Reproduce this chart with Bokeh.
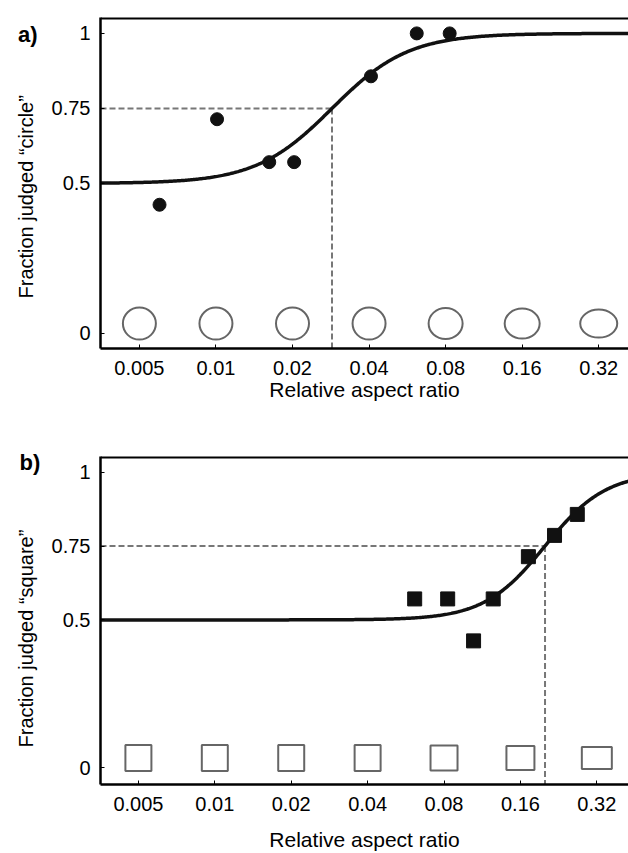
import numpy as np
from bokeh.plotting import figure
from bokeh.layouts import column
from bokeh.models import FixedTicker, CustomJSTickFormatter, Range1d, Title
from bokeh.core.properties import value
from bokeh.embed import file_html
from bokeh.resources import INLINE

# ---------------- data ----------------
tick_x = [0.005, 0.01, 0.02, 0.04, 0.08, 0.16, 0.32]
tick_y = [0, 0.5, 0.75, 1]

circle_x = [0.0060, 0.0101, 0.0162, 0.0203, 0.0407, 0.0616, 0.0830]
circle_y = [0.429, 0.714, 0.571, 0.571, 0.857, 1.0, 1.0]
circle_threshold = 0.0286
circle_spread = 0.5   # logistic spread, in doublings

square_x = [0.0613, 0.0827, 0.1046, 0.1250, 0.1720, 0.2180, 0.2680]
square_y = [0.571, 0.571, 0.429, 0.571, 0.714, 0.786, 0.857]
square_threshold = 0.200
square_spread = 0.4

guess_rate = 0.5
criterion = 0.75
stim_level = 0.033

# stimulus icon sizes (screen px)
ellipse_w = [33, 33, 33, 33, 34, 35, 37]
ellipse_h = [32, 32, 32, 32, 31, 30, 28]
rect_w = [26, 26, 26, 26, 27, 28, 30]
rect_h = [26, 26, 26, 26, 25, 24, 22]

FONT = "Liberation Sans"
GRAY = "#666666"


def make_panel(height, border_top, border_bottom, border_left, xr, yr,
               ylabel, ylabel_offset, tag, tag_pos, title_standoff):
    p = figure(width=628, height=height, x_axis_type="log",
               x_range=Range1d(*xr), y_range=Range1d(*yr),
               output_backend="svg", toolbar_location=None,
               min_border_left=border_left, min_border_right=0,
               min_border_top=border_top, min_border_bottom=border_bottom)
    p.outline_line_color = None
    p.grid.visible = False
    p.background_fill_color = "white"
    p.border_fill_color = "white"

    fmt = CustomJSTickFormatter(code="return tick.toString();")
    for ax, ticks in ((p.xaxis[0], tick_x), (p.yaxis[0], tick_y)):
        ax.ticker = FixedTicker(ticks=ticks)
        ax.formatter = fmt
        ax.axis_line_width = 2.5
        ax.axis_line_color = "black"
        ax.major_tick_in = 4
        ax.major_tick_out = 0
        ax.major_tick_line_color = "black"
        ax.minor_tick_line_color = None
        ax.major_label_text_font = FONT
        ax.major_label_text_font_size = "20px"
        ax.major_label_text_color = "black"
    p.xaxis.axis_label = "Relative aspect ratio"
    p.xaxis.axis_label_text_font = FONT
    p.xaxis.axis_label_text_font_size = "21px"
    p.xaxis.axis_label_text_font_style = "normal"
    p.xaxis.axis_label_text_color = "black"
    p.xaxis.major_label_standoff = 12
    p.xaxis.axis_label_standoff = title_standoff
    p.yaxis.major_label_standoff = 10

    # y-axis title as a side title (aligned from the bottom, shifted up)
    p.add_layout(Title(text=ylabel, text_font=FONT, text_font_size="20px",
                       text_font_style="normal", text_color="black",
                       align="left", offset=ylabel_offset, standoff=24), "left")

    # top spine
    p.segment(x0=[xr[0]], y0=[yr[1]], x1=[xr[1]], y1=[yr[1]],
              line_color="black", line_width=4)

    # panel tag
    p.text(x=[tag_pos[0]], y=[tag_pos[1]], text=[tag], text_font=value(FONT),
           text_font_size="22px", text_font_style="bold", text_align="center",
           text_baseline="alphabetic", text_color="black", level="overlay")
    return p


# ---------------- panel a ----------------
xa = (0.003516, 0.419)
ya = (-0.05, 1.053)
pa = make_panel(408, 17, 60, 99, xa, ya, "Fraction judged \u201ccircle\u201d", 50,
                "a)", (0.00182, 0.998), 0)

xs = np.geomspace(xa[0], xa[1], 400)
curve_a = guess_rate + (1 - guess_rate) / (1 + np.exp(-(np.log2(xs) - np.log2(circle_threshold)) / circle_spread))
pa.segment(x0=[xa[0], circle_threshold], y0=[criterion, criterion],
           x1=[circle_threshold, circle_threshold], y1=[criterion, ya[0]],
           line_color="#777777", line_width=2, line_dash="6 3")
pa.line(xs, curve_a, line_color="#111111", line_width=3.5)
pa.scatter(circle_x, circle_y, marker="circle", size=13, fill_color="#111111", line_color="#111111")
pa.ellipse(x=tick_x, y=[stim_level] * len(tick_x), width=ellipse_w, height=ellipse_h,
           width_units="screen", height_units="screen",
           fill_color=None, line_color=GRAY, line_width=2)

# ---------------- panel b ----------------
xb = (0.003545, 0.4265)
yb = (-0.057, 1.053)
pb = make_panel(445, 48, 64, 98, xb, yb, "Fraction judged \u201csquare\u201d", 37,
                "b)", (0.00187, 1.034), 14)

xs_b = np.geomspace(xb[0], xb[1], 400)
curve_b = guess_rate + (1 - guess_rate) / (1 + np.exp(-(np.log2(xs_b) - np.log2(square_threshold)) / square_spread))
pb.segment(x0=[xb[0], square_threshold], y0=[criterion, criterion],
           x1=[square_threshold, square_threshold], y1=[criterion, yb[0]],
           line_color="#777777", line_width=2, line_dash="6 3")
pb.line(xs_b, curve_b, line_color="#111111", line_width=3.5)
pb.scatter(square_x, square_y, marker="square", size=14, fill_color="#111111", line_color="#111111")
pb.rect(x=tick_x, y=[stim_level] * len(tick_x), width=rect_w, height=rect_h,
        width_units="screen", height_units="screen",
        fill_color=None, line_color=GRAY, line_width=2)

layout = column(pa, pb, spacing=0)
open("out.html", "w").write(file_html(layout, INLINE))
